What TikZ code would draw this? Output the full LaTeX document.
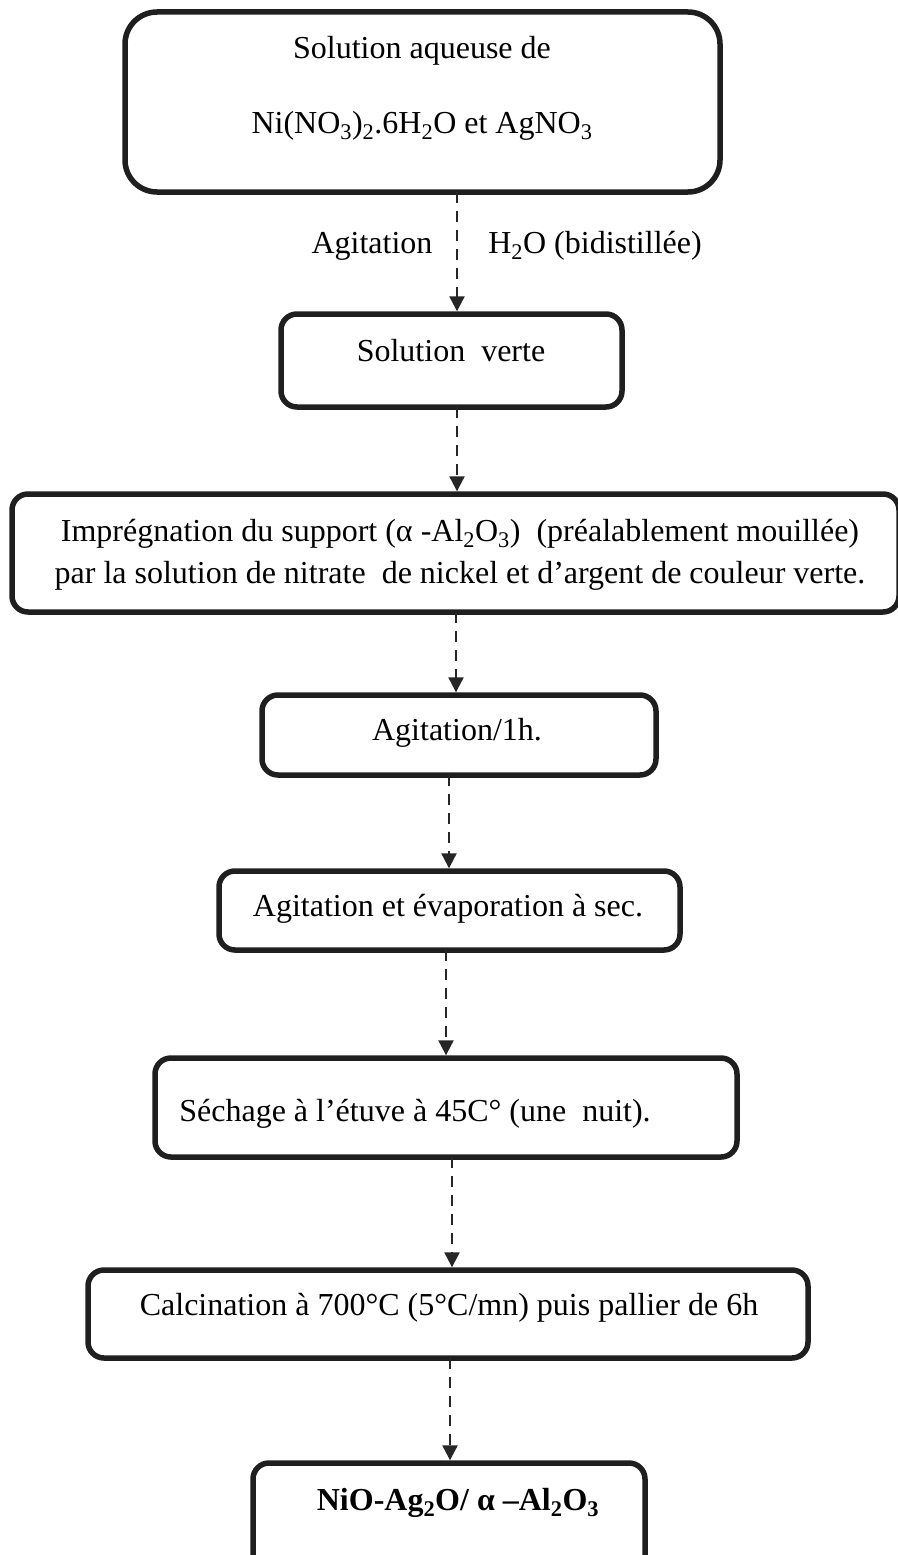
\documentclass[tikz,border=0pt]{standalone}
\usepackage{fontspec}
\setmainfont{Liberation Serif}
\usetikzlibrary{arrows.meta}
\newcommand{\sbs}[1]{\textsubscript{#1}}
\begin{document}
\begin{tikzpicture}[x=1pt,y=-1pt,
  box/.style={draw=black!88, line width=5.5pt, rounded corners=16pt, fill=white, inner sep=0pt},
  bigbox/.style={box, rounded corners=32pt},
  txt/.style={font=\fontsize{32}{38}\selectfont, inner sep=0pt, anchor=center},
  flow/.style={draw=black!85, line width=2.2pt, dash pattern=on 11pt off 8pt, shorten >=2.5pt, -{Triangle[length=15pt,width=15pt]}}]
\useasboundingbox (0,0) rectangle (897,1555);
\fill[white] (0,0) rectangle (897,1555);
% boxes
\draw[bigbox] (125,12) rectangle (720,192);
\node[inner sep=0pt] (b1) at (422.5,102) [minimum width=595pt, minimum height=180pt] {};
\draw[box] (281,314) rectangle (622,407);
\node[inner sep=0pt] (b2) at (451.5,360.5) [minimum width=341pt, minimum height=93pt] {};
\draw[box] (12,494) rectangle (899,612);
\node[inner sep=0pt] (b3) at (455.5,553) [minimum width=887pt, minimum height=118pt] {};
\draw[box] (262,695) rectangle (656,775);
\node[inner sep=0pt] (b4) at (459,735) [minimum width=394pt, minimum height=80pt] {};
\draw[box] (219,871) rectangle (680,950);
\node[inner sep=0pt] (b5) at (449.5,910.5) [minimum width=461pt, minimum height=79pt] {};
\draw[box] (155,1058) rectangle (737,1157);
\node[inner sep=0pt] (b6) at (446,1107.5) [minimum width=582pt, minimum height=99pt] {};
\draw[box] (88,1270) rectangle (808,1358);
\node[inner sep=0pt] (b7) at (448,1314) [minimum width=720pt, minimum height=88pt] {};
\draw[box] (253,1463) rectangle (645,1590);
\node[inner sep=0pt] (b8) at (449,1526.5) [minimum width=392pt, minimum height=127pt] {};
% texts
\node[txt] (t1a) at (422,51) {Solution aqueuse de};
\node[txt] (t1b) at (422,126) {Ni(NO\sbs{3})\sbs{2}.6H\sbs{2}O et AgNO\sbs{3}};
\node[txt] (lA) at (372,246) {Agitation};
\node[txt] (lB) at (595,246) {H\sbs{2}O (bidistillée)};
\node[txt] (t2) at (451,351) {Solution~ verte};
\node[txt] (t3a) at (460,534) {Imprégnation du support (α -Al\sbs{2}O\sbs{3})~ (préalablement mouillée)};
\node[txt] (t3b) at (460,576) {par la solution de nitrate~ de nickel et d’argent de couleur verte.};
\node[txt] (t4) at (457,733) {Agitation/1h.};
\node[txt] (t5) at (448,909) {Agitation et évaporation à sec.};
\node[txt] (t6) at (415,1114) {Séchage à l’étuve à 45C° (une~ nuit).};
\node[txt] (t7) at (449,1308) {Calcination à 700°C (5°C/mn) puis pallier de 6h};
\node[txt, font=\fontsize{32}{38}\selectfont\bfseries] (t8) at (458,1503) {NiO-Ag\sbs{2}O/ α –Al\sbs{2}O\sbs{3}};
% arrows
\path[flow] (b1.south -| 457,0) -- (b2.north -| 457,0);
\path[flow] (b2.south -| 457,0) -- (b3.north -| 457,0);
\path[flow] (b3.south -| 456,0) -- (b4.north -| 456,0);
\path[flow] (b4.south -| 449,0) -- (b5.north -| 449,0);
\path[flow] (b5.south -| 446,0) -- (b6.north -| 446,0);
\path[flow] (b6.south -| 452,0) -- (b7.north -| 452,0);
\path[flow] (b7.south -| 450,0) -- (b8.north -| 450,0);
\end{tikzpicture}
\end{document}
